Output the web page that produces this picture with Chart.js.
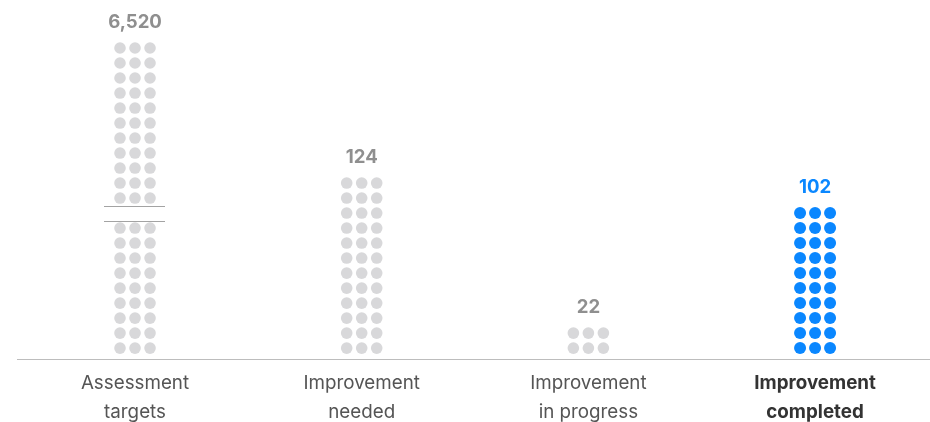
<!DOCTYPE html>
<html>
<head>
<meta charset="utf-8">
<script src="https://cdn.jsdelivr.net/npm/chart.js@4"></script>
<style>
  html, body { margin: 0; padding: 0; background: #ffffff; overflow: hidden; }
  #wrap { width: 936px; height: 422px; position: relative; }
</style>
</head>
<body>
<div id="wrap"><canvas id="c"></canvas></div>
<script>
// ---- data ----
const categories = [["Assessment", "targets"], ["Improvement", "needed"], ["Improvement", "in progress"], ["Improvement", "completed"]];
const values = [6520, 124, 22, 102];
const highlighted = [false, false, false, true];
const UNITS_PER_ROW = 10;        // each row of three dots ≈ 10 items
const MAX_ROWS = 20;             // taller columns are truncated with a break
const BREAK_AFTER_ROWS = 9;      // rows drawn below the break

// ---- style constants ----
const GRAY_DOT = '#d8d8da';
const BLUE = '#0a87ff';
const GRAY_VALUE = '#8f8f8f';
const FONT = 'Inter, "Noto Sans", sans-serif';
const DOT_DX = 0.0662;           // horizontal spacing between dots in a row (x units)

// build dot points from the values
function rowList(v) {
  const n = Math.round(v / UNITS_PER_ROW);
  if (n <= MAX_ROWS) return Array.from({length: n}, (_, r) => r);
  const rows = [];
  for (let r = 0; r < BREAK_AFTER_ROWS; r++) rows.push(r);
  for (let r = BREAK_AFTER_ROWS + 1; r <= MAX_ROWS; r++) rows.push(r);
  return rows;
}
const datasets = values.map((v, i) => {
  const pts = [];
  rowList(v).forEach(r => {
    for (let c = -1; c <= 1; c++) pts.push({x: i + c * DOT_DX, y: r});
  });
  return {
    data: pts,
    pointRadius: highlighted[i] ? 6 : 5.8,
    pointHoverRadius: highlighted[i] ? 6 : 5.8,
    pointBackgroundColor: highlighted[i] ? BLUE : GRAY_DOT,
    pointBorderWidth: 0,
    showLine: false
  };
});

const overlay = {
  id: 'overlay',
  afterDatasetsDraw(chart) {
    const {ctx, scales: {x, y}} = chart;
    ctx.save();
    // value labels
    ctx.font = 'bold 18.6px ' + FONT;
    ctx.textAlign = 'center';
    ctx.textBaseline = 'middle';
    values.forEach((v, i) => {
      const rows = rowList(v);
      const top = rows[rows.length - 1];
      ctx.fillStyle = highlighted[i] ? BLUE : GRAY_VALUE;
      ctx.fillText(v.toLocaleString('en-US'), x.getPixelForValue(i), y.getPixelForValue(top) - 25.5);
    });
    // break marks
    values.forEach((v, i) => {
      if (Math.round(v / UNITS_PER_ROW) <= MAX_ROWS) return;
      const cx = x.getPixelForValue(i);
      ctx.strokeStyle = '#a3a3a3';
      ctx.lineWidth = 1;
      [BREAK_AFTER_ROWS - 0.5, BREAK_AFTER_ROWS + 0.5].forEach(r => {
        const py = Math.round(y.getPixelForValue(r)) + 0.5;
        ctx.beginPath();
        ctx.moveTo(cx - 31, py);
        ctx.lineTo(cx + 30, py);
        ctx.stroke();
      });
    });
    ctx.restore();
  }
};

new Chart(document.getElementById('c'), {
  type: 'scatter',
  data: { datasets },
  options: {
    responsive: true,
    maintainAspectRatio: false,
    animation: false,
    events: [],
    layout: { padding: { left: 17, right: 6, top: 6, bottom: -15 } },
    plugins: { legend: { display: false }, tooltip: { enabled: false } },
    scales: {
      x: {
        type: 'linear',
        min: -0.5206,
        max: 3.507,
        afterBuildTicks: axis => { axis.ticks = categories.map((_, i) => ({value: i})); },
        grid: { display: false, drawTicks: false },
        border: { display: true, color: '#bdbdbd', width: 1 },
        ticks: {
          autoSkip: false,
          maxRotation: 0,
          padding: 10,
          callback: (val) => categories[val] || '',
          color: ctx => highlighted[ctx.index] ? '#333333' : '#555555',
          font: ctx => ({ family: FONT, size: 18.8, weight: highlighted[ctx.index] ? 'bold' : 'normal', lineHeight: 1.54 })
        }
      },
      y: {
        display: false,
        min: -0.733,
        max: 22.8
      }
    }
  },
  plugins: [overlay]
});
</script>
</body>
</html>
